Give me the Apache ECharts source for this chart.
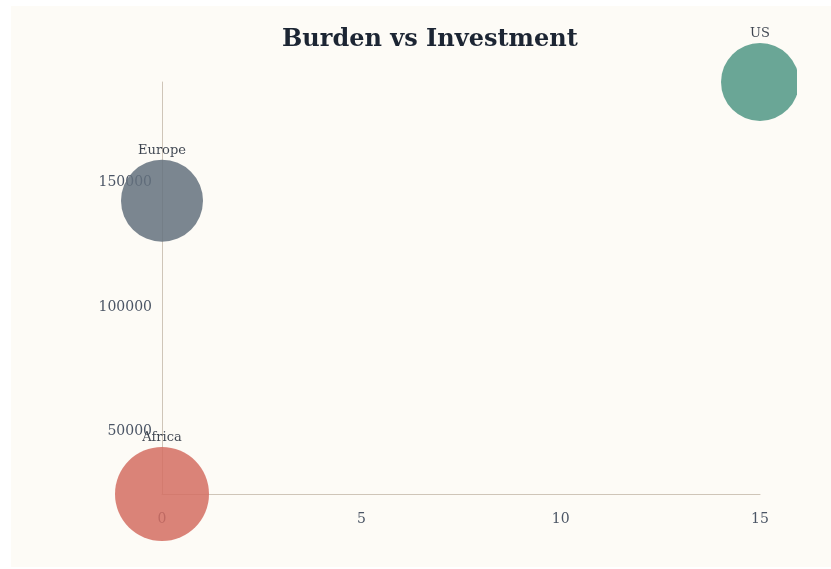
<!DOCTYPE html>
<html>
<head>
<meta charset="utf-8">
<script src="https://cdn.jsdelivr.net/npm/echarts@6/dist/echarts.min.js"></script>
<style>
  html, body { margin: 0; padding: 0; background: #ffffff; }
  .wrap { position: absolute; left: 11px; top: 6px; width: 830px; height: 561px; background: #fdfbf6; }
  .diagram { width: 786px; height: 561px; }
</style>
</head>
<body>
<div class="wrap"><div class="diagram"></div></div>
<script>
var regions    = ['Africa', 'Europe', 'US'];
var investment = [0, 0, 15];
var burden     = [25000, 142800, 190500];
var weight     = [47, 41, 39];
var colors     = ['#d36d62', '#64717e', '#509785'];

var serif = 'Georgia, "DejaVu Serif", serif';

var chart = echarts.init(document.querySelector('.diagram'));

var series = regions.map(function(name, i) {
  return {
    name: name,
    type: 'scatter',
    data: [[investment[i], burden[i], weight[i]]],
    symbolSize: function(v) { return v[2] * 2; },
    itemStyle: { color: colors[i], opacity: 0.85 },
    label: {
      show: true,
      position: 'top',
      distance: 3,
      formatter: name,
      color: '#1c2533',
      fontFamily: serif,
      fontSize: 13
    }
  };
});

var option = {
  animation: false,
  title: {
    text: 'Burden vs Investment',
    left: 266,
    top: 17,
    textStyle: { fontFamily: serif, fontSize: 24, fontWeight: 'bold', color: '#1c2533' }
  },
  grid: { left: 151, right: 37, top: 76, bottom: 73 },
  xAxis: {
    type: 'value',
    min: 0,
    max: 15,
    interval: 5,
    axisLine: { show: true, lineStyle: { color: '#cfc5b8' } },
    axisTick: { show: false },
    splitLine: { show: false },
    axisLabel: { margin: 18, color: '#4b5565', fontFamily: serif, fontSize: 14 }
  },
  yAxis: {
    type: 'value',
    min: 'dataMin',
    max: 'dataMax',
    splitNumber: 3,
    axisLine: { show: true, lineStyle: { color: '#cfc5b8' } },
    axisTick: { show: false },
    splitLine: { show: false },
    axisLabel: {
      margin: 10, color: '#4b5565', fontFamily: serif, fontSize: 14,
      showMinLabel: false, showMaxLabel: false,
      formatter: function(v) { return String(v); }
    }
  },
  series: series
};

chart.setOption(option);
</script>
</body>
</html>
